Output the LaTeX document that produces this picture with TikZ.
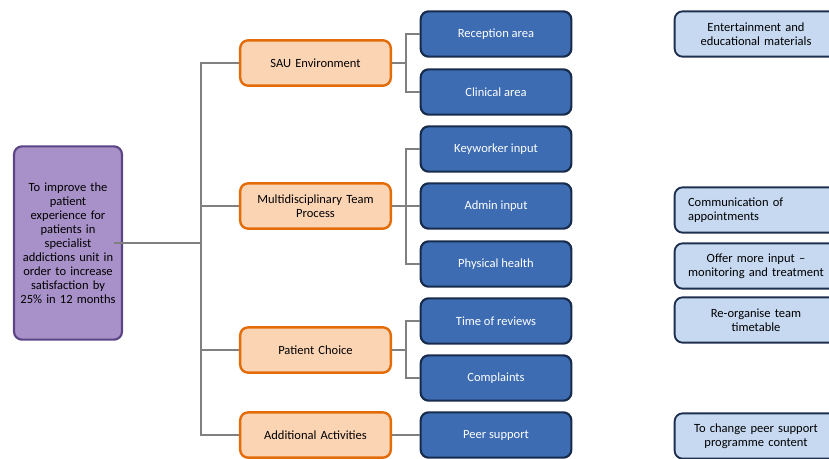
\documentclass[tikz,border=0pt]{standalone}
\usepackage{fontspec}
\setmainfont{Carlito}
\usepackage{xcolor}
\usepackage{tikz}

\definecolor{goalfill}{HTML}{A891C8}
\definecolor{goalline}{HTML}{5B4585}
\definecolor{areafill}{HTML}{FBD4B4}
\definecolor{arealine}{HTML}{E36C09}
\definecolor{itemfill}{HTML}{3D6CB3}
\definecolor{itemline}{HTML}{172B4B}
\definecolor{actfill}{HTML}{C6D9F1}
\definecolor{actline}{HTML}{1E2F4E}
\definecolor{linkgray}{HTML}{808080}

\begin{document}
\begin{tikzpicture}[x=0.75pt,y=-0.75pt,
		every node/.style={font=\fontsize{9.4}{10.5}\selectfont, align=center, rounded corners=6pt},
		goalbox/.style={draw=goalline, fill=goalfill, line width=1.6pt, minimum width=81pt, minimum height=145pt, text width=74pt},
		areabox/.style={draw=arealine, fill=areafill, line width=1.8pt, minimum width=113pt, minimum height=34pt, text width=104pt},
		itembox/.style={draw=itemline, fill=itemfill, line width=1.6pt, minimum width=113pt, minimum height=34pt, text=white},
		actbox/.style={draw=actline, fill=actfill, line width=1.4pt, minimum width=122pt, minimum height=34pt, text width=112pt},
		link/.style={draw=linkgray, line width=1.6pt}]
			\useasboundingbox (0,0) rectangle (829,458);
			\node[goalbox] (goal) at (68,243) {To improve the\\ patient\\ experience for\\ patients in\\ specialist\\ addictions unit in\\ order to increase\\ satisfaction by\\ 25\% in 12 months};
			\node[areabox] (sau) at (315.5,63) {SAU Environment};
			\node[areabox] (mdt) at (315.5,206) {Multidisciplinary Team\\ Process};
			\node[areabox] (choice) at (315.5,350) {Patient Choice};
			\node[areabox] (extra) at (315.5,435) {Additional Activities};
			\node[itembox] (reception) at (496,34) {Reception area};
			\node[itembox] (clinical) at (496,92) {Clinical area};
			\node[itembox] (keyworker) at (496,149) {Keyworker input};
			\node[itembox] (admin) at (496,206) {Admin input};
			\node[itembox] (physical) at (496,264) {Physical health};
			\node[itembox] (reviews) at (496,321) {Time of reviews};
			\node[itembox] (complaints) at (496,378) {Complaints};
			\node[itembox] (peer) at (496,435) {Peer support};
			\node[actbox] (materials) at (756,34) {Entertainment and\\ educational materials};
			\node[actbox, align=left, text width=102pt] (comms) at (756,210) {Communication of\\ appointments};
			\node[actbox] (moreinput) at (756,266) {Offer more input --\\ monitoring and treatment};
			\node[actbox] (timetable) at (756,320) {Re-organise team\\ timetable};
			\node[actbox] (content) at (756,436) {To change peer support\\ programme content};
			\coordinate (trunk) at (201,243);
			\draw[link] ([xshift=-7pt]goal.east) -- (trunk);
			\draw[link] (sau.west) -| (trunk) |- (extra.west);
			\draw[link] (mdt.west) -- (mdt.west -| trunk);
			\draw[link] (choice.west) -- (choice.west -| trunk);
			\draw[link] (sau.east) -- ++(14,0) coordinate (s1) (s1) |- (reception.west) (s1) |- (clinical.west);
			\draw[link] (mdt.east) -- (admin.west);
			\draw[link] (keyworker.west) -| ++(-14,0) |- (physical.west);
			\draw[link] (choice.east) -- ++(14,0) coordinate (c1) (c1) |- (reviews.west) (c1) |- (complaints.west);
			\draw[link] (extra.east) -- (peer.west);
		\end{tikzpicture}
\end{document}
